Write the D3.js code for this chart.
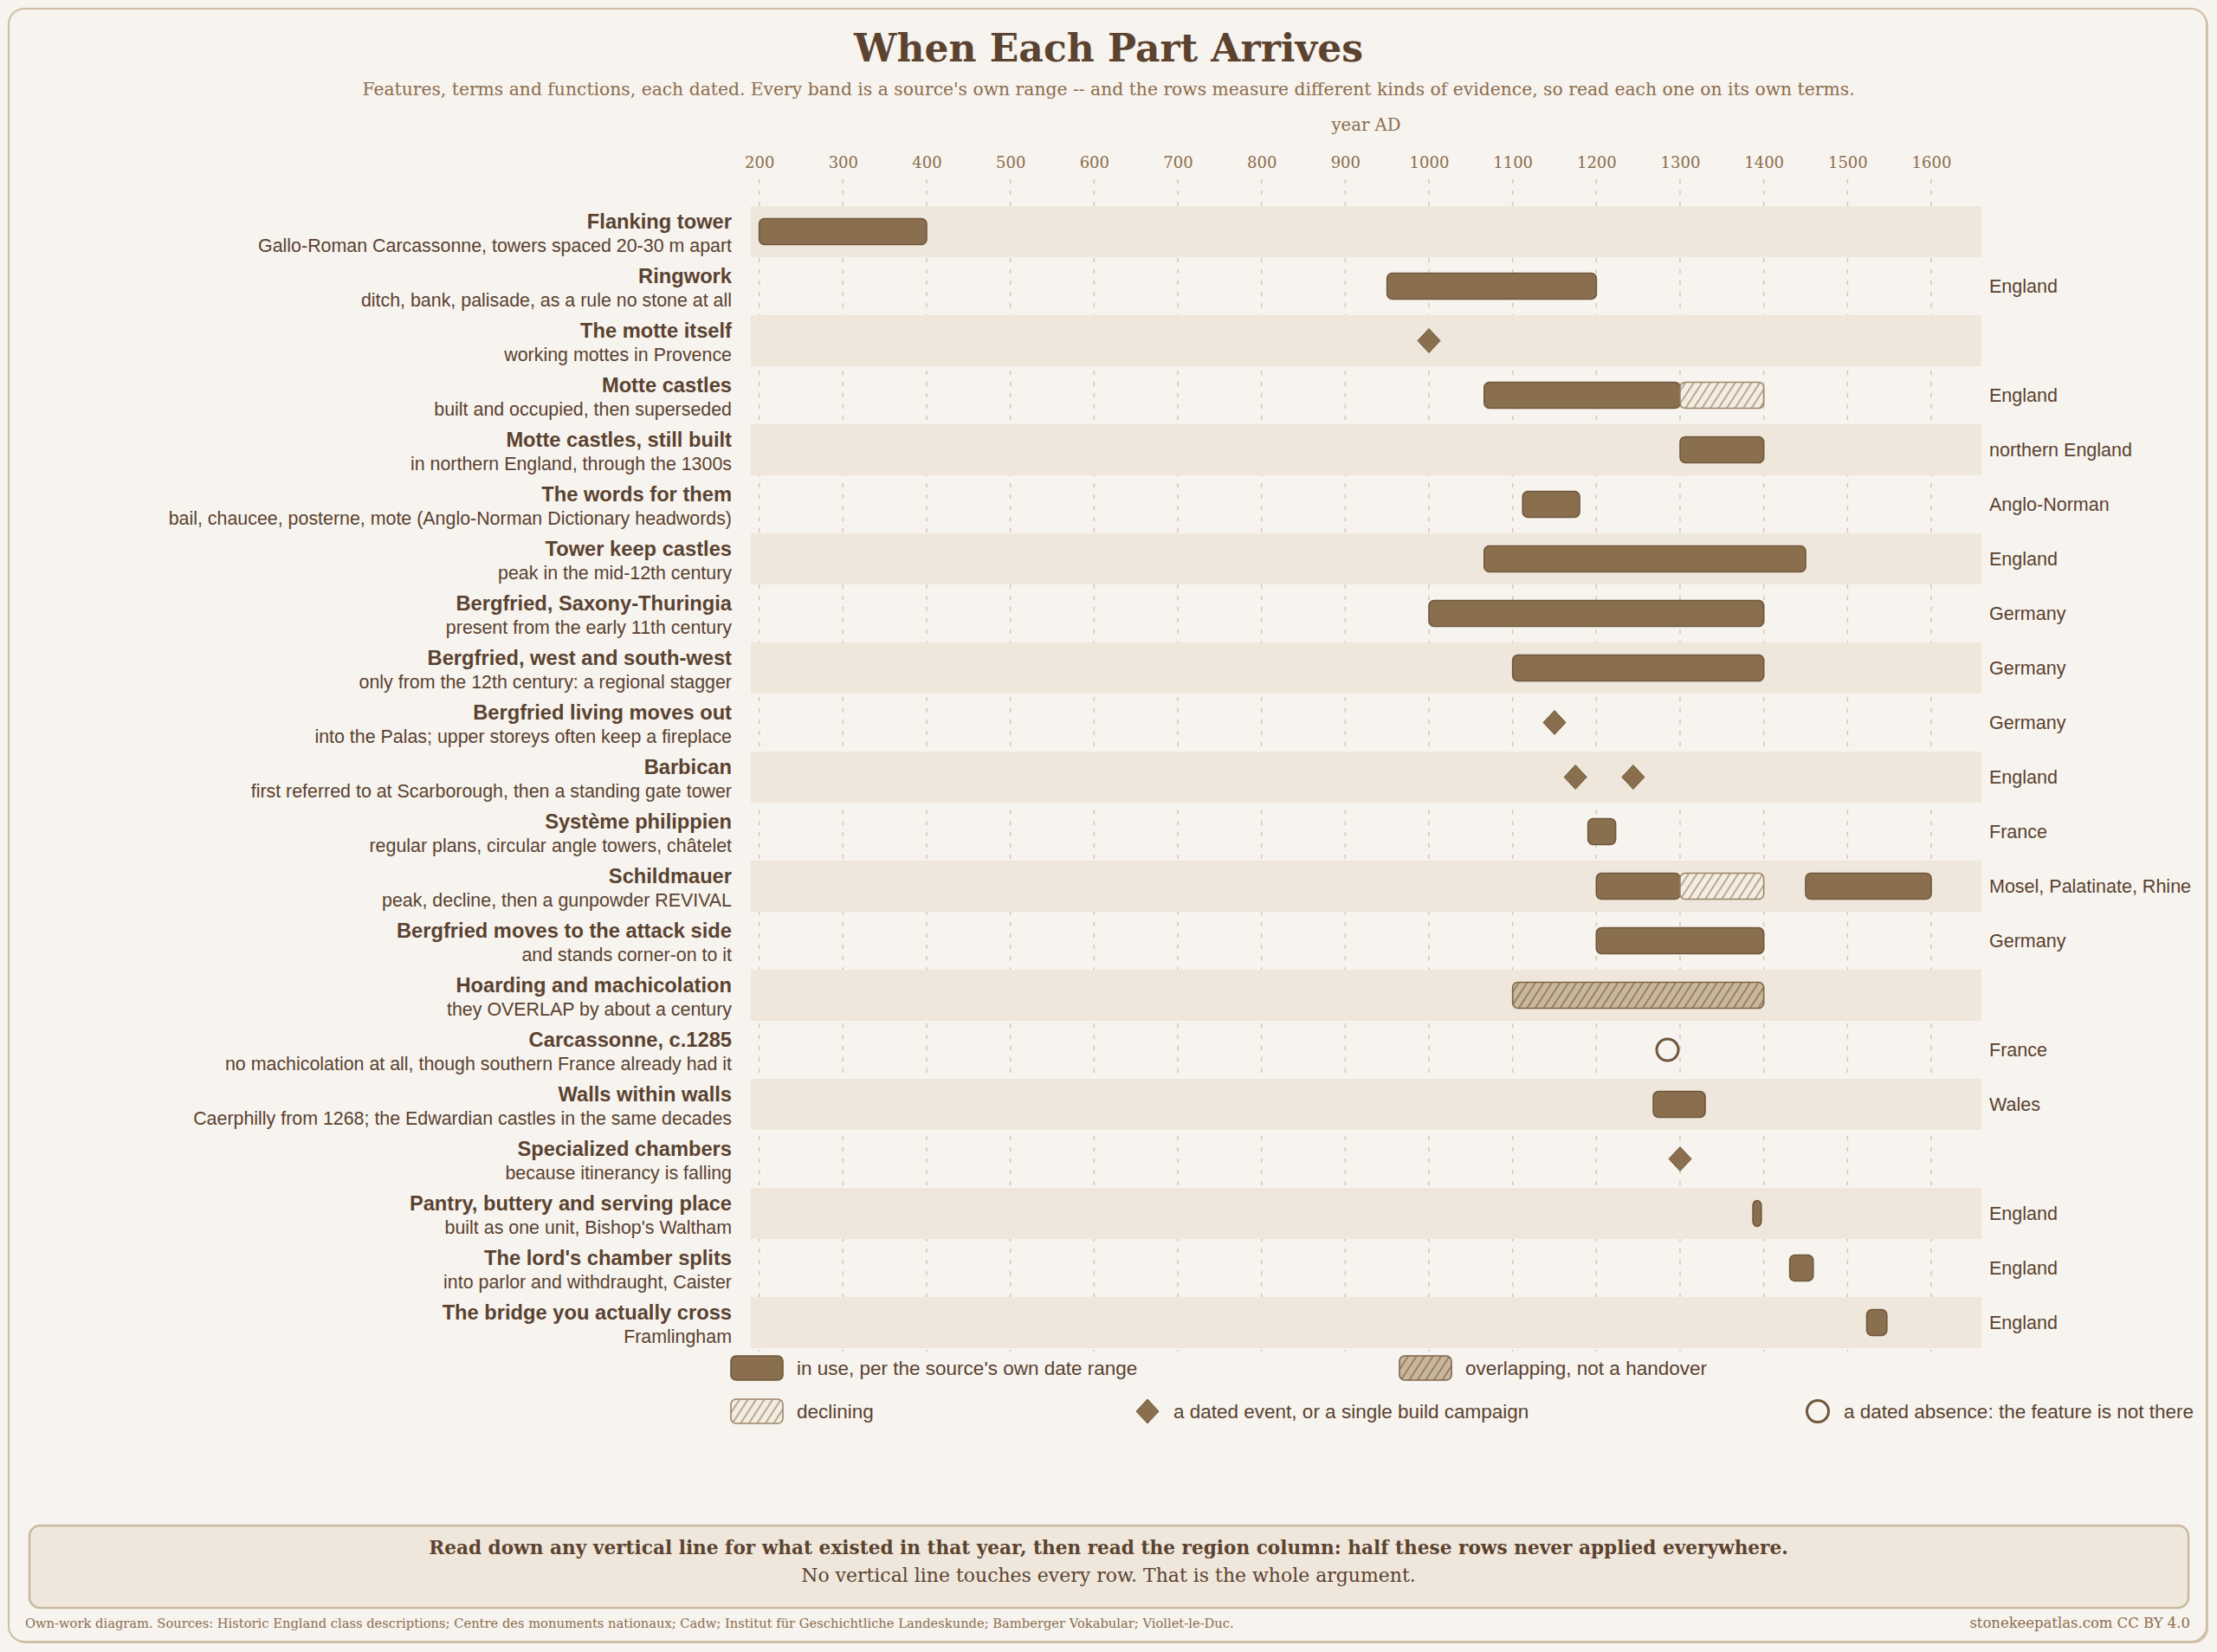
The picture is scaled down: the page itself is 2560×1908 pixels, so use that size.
<!DOCTYPE html>
<html>
<head>
<meta charset="utf-8">
<script src="https://cdn.jsdelivr.net/npm/d3@7"></script>
<style>
  html, body { margin: 0; padding: 0; background: #f7f3ee; }
  svg { display: block; }
</style>
</head>
<body>
<div id="chart"></div>
<script>
// ---- data ----
const rowTitles = [
  "Flanking tower", "Ringwork", "The motte itself", "Motte castles",
  "Motte castles, still built", "The words for them", "Tower keep castles",
  "Bergfried, Saxony-Thuringia", "Bergfried, west and south-west",
  "Bergfried living moves out", "Barbican", "Système philippien", "Schildmauer",
  "Bergfried moves to the attack side", "Hoarding and machicolation",
  "Carcassonne, c.1285", "Walls within walls", "Specialized chambers",
  "Pantry, buttery and serving place", "The lord's chamber splits",
  "The bridge you actually cross"
];
const rowNotes = [
  "Gallo-Roman Carcassonne, towers spaced 20-30 m apart",
  "ditch, bank, palisade, as a rule no stone at all",
  "working mottes in Provence",
  "built and occupied, then superseded",
  "in northern England, through the 1300s",
  "bail, chaucee, posterne, mote (Anglo-Norman Dictionary headwords)",
  "peak in the mid-12th century",
  "present from the early 11th century",
  "only from the 12th century: a regional stagger",
  "into the Palas; upper storeys often keep a fireplace",
  "first referred to at Scarborough, then a standing gate tower",
  "regular plans, circular angle towers, châtelet",
  "peak, decline, then a gunpowder REVIVAL",
  "and stands corner-on to it",
  "they OVERLAP by about a century",
  "no machicolation at all, though southern France already had it",
  "Caerphilly from 1268; the Edwardian castles in the same decades",
  "because itinerancy is falling",
  "built as one unit, Bishop's Waltham",
  "into parlor and withdraught, Caister",
  "Framlingham"
];
const rowRegions = [
  "", "England", "", "England", "northern England", "Anglo-Norman", "England",
  "Germany", "Germany", "Germany", "England", "France", "Mosel, Palatinate, Rhine",
  "Germany", "", "France", "Wales", "", "England", "England", "England"
];

// bands: row index, start year, end year, kind
const spans = [
  { row: 0,  from: 200,  to: 400,  kind: "use" },
  { row: 1,  from: 950,  to: 1200, kind: "use" },
  { row: 3,  from: 1066, to: 1300, kind: "use" },
  { row: 3,  from: 1300, to: 1400, kind: "declining" },
  { row: 4,  from: 1300, to: 1400, kind: "use" },
  { row: 5,  from: 1112, to: 1180, kind: "use" },
  { row: 6,  from: 1066, to: 1450, kind: "use" },
  { row: 7,  from: 1000, to: 1400, kind: "use" },
  { row: 8,  from: 1100, to: 1400, kind: "use" },
  { row: 11, from: 1190, to: 1223, kind: "use" },
  { row: 12, from: 1200, to: 1300, kind: "use" },
  { row: 12, from: 1300, to: 1400, kind: "declining" },
  { row: 12, from: 1450, to: 1600, kind: "use" },
  { row: 13, from: 1200, to: 1400, kind: "use" },
  { row: 14, from: 1100, to: 1400, kind: "overlap" },
  { row: 16, from: 1268, to: 1330, kind: "use" },
  { row: 18, from: 1387, to: 1397, kind: "use" },
  { row: 19, from: 1431, to: 1459, kind: "use" },
  { row: 20, from: 1523, to: 1547, kind: "use" }
];
const events = [
  { row: 2,  year: 1000 },
  { row: 9,  year: 1150 },
  { row: 10, year: 1175 },
  { row: 10, year: 1244 },
  { row: 17, year: 1300 }
];
const absences = [
  { row: 15, year: 1285 }
];
const tickYears = [200, 300, 400, 500, 600, 700, 800, 900, 1000, 1100, 1200, 1300, 1400, 1500, 1600];

const legendItems = [
  { kind: "use",       label: "in use, per the source's own date range" },
  { kind: "overlap",   label: "overlapping, not a handover" },
  { kind: "declining", label: "declining" },
  { kind: "event",     label: "a dated event, or a single build campaign" },
  { kind: "absence",   label: "a dated absence: the feature is not there" }
];

// ---- layout ----
const W = 2560, H = 1908;
const serif = "'DejaVu Serif', Georgia, serif";
const sans = "'Liberation Sans', Arial, Helvetica, sans-serif";
const ink = "#5a4230", soft = "#8b6d4d";
const barFill = "#8a6f4f", barStroke = "#6f573c", bandFill = "#efe7db";

const svg = d3.select("#chart").append("svg")
    .attr("width", W)
    .attr("height", H);

// stretch a serif line to the width it has in the reference
function fit(sel, w) {
    const len = sel.node().getComputedTextLength();
    const fs = parseFloat(sel.attr("font-size"));
    sel.attr("font-size", (fs * w / len).toFixed(2));
    return sel;
}

const defs = svg.append("defs");
function hatch(id, bg, line) {
    const p = defs.append("pattern")
        .attr("id", id)
        .attr("patternUnits", "userSpaceOnUse")
        .attr("width", 8).attr("height", 8)
        .attr("patternTransform", "rotate(33)");
    p.append("rect").attr("width", 8).attr("height", 8).attr("fill", bg);
    p.append("line").attr("x1", 1).attr("x2", 1).attr("y1", 0).attr("y2", 8)
        .attr("stroke", line).attr("stroke-width", 1.3);
}
hatch("declining", "#f4ede2", "#9c8468");
hatch("overlap", "#c9b79b", "#7d644a");

const kindStyle = {
    use:       { fill: barFill, stroke: barStroke },
    declining: { fill: "url(#declining)", stroke: "#9c8468" },
    overlap:   { fill: "url(#overlap)", stroke: "#7d644a" }
};

// card
svg.append("rect")
    .attr("x", 12).attr("y", 12).attr("width", W - 22).attr("height", H - 22)
    .attr("rx", 18).attr("fill", "#d3c4ac");
svg.append("rect")
    .attr("x", 10).attr("y", 10).attr("width", W - 22).attr("height", H - 22)
    .attr("rx", 18).attr("fill", "#f7f3ee").attr("stroke", "#cdbda4").attr("stroke-width", 2);

// titles
fit(svg.append("text")
    .attr("x", 1280).attr("y", 71)
    .attr("text-anchor", "middle")
    .attr("font-family", serif).attr("font-weight", "bold").attr("font-size", 48)
    .attr("fill", "#5c4330")
    .text("When Each Part Arrives"), 588);

fit(svg.append("text")
    .attr("x", 1280).attr("y", 110)
    .attr("text-anchor", "middle")
    .attr("font-family", serif).attr("font-size", 22)
    .attr("fill", soft)
    .text("Features, terms and functions, each dated. Every band is a source's own range -- and the rows measure different kinds of evidence, so read each one on its own terms."), 1724);

// scales
const x = d3.scaleLinear().domain([190, 1660]).range([867, 2288]);
const y = d3.scaleBand().domain(d3.range(rowTitles.length))
    .range([238, 238 + 20 * 63 + 59]).paddingInner(4 / 63);
const cy = i => y(i) + y.bandwidth() / 2;

fit(svg.append("text")
    .attr("x", (x.range()[0] + x.range()[1]) / 2).attr("y", 151)
    .attr("text-anchor", "middle")
    .attr("font-family", serif).attr("font-size", 20)
    .attr("fill", soft)
    .text("year AD"), 80);

// axis labels on top
const axis = svg.append("g")
    .attr("transform", "translate(0,194)")
    .call(d3.axisTop(x).tickValues(tickYears).tickSize(0).tickPadding(0).tickFormat(d3.format("d")));
axis.select(".domain").remove();
axis.selectAll("text")
    .attr("font-family", serif).attr("font-size", 18)
    .attr("fill", soft);

// dashed year lines
svg.append("g").selectAll("line")
    .data(tickYears)
    .join("line")
    .attr("x1", d => x(d)).attr("x2", d => x(d))
    .attr("y1", 207).attr("y2", 1561)
    .attr("stroke", "#d6c8b1").attr("stroke-width", 1.5)
    .attr("stroke-dasharray", "5,8");

// alternating row bands
svg.append("g").selectAll("rect")
    .data(d3.range(rowTitles.length).filter(i => i % 2 === 0))
    .join("rect")
    .attr("x", x.range()[0]).attr("width", x.range()[1] - x.range()[0])
    .attr("y", i => y(i)).attr("height", y.bandwidth())
    .attr("fill", bandFill);

// row labels
const labels = svg.append("g");
labels.selectAll(".row-title")
    .data(rowTitles)
    .join("text")
    .attr("class", "row-title")
    .attr("x", 845).attr("y", (d, i) => cy(i) - 4)
    .attr("text-anchor", "end")
    .attr("font-family", sans).attr("font-weight", "bold").attr("font-size", 23.7)
    .attr("fill", ink)
    .text(d => d);
labels.selectAll(".row-note")
    .data(rowNotes)
    .join("text")
    .attr("class", "row-note")
    .attr("x", 845).attr("y", (d, i) => cy(i) + 23)
    .attr("text-anchor", "end")
    .attr("font-family", sans).attr("font-size", 21.4)
    .attr("fill", ink)
    .text(d => d);
labels.selectAll(".row-region")
    .data(rowRegions)
    .join("text")
    .attr("class", "row-region")
    .attr("x", 2297).attr("y", (d, i) => cy(i))
    .attr("dy", "0.36em")
    .attr("font-family", sans).attr("font-size", 21.5)
    .attr("fill", ink)
    .text(d => d);

// spans
svg.append("g").selectAll("rect")
    .data(spans)
    .join("rect")
    .attr("x", d => x(d.from)).attr("width", d => x(d.to) - x(d.from))
    .attr("y", d => cy(d.row) - 15).attr("height", 30)
    .attr("rx", 6)
    .attr("fill", d => kindStyle[d.kind].fill)
    .attr("stroke", d => kindStyle[d.kind].stroke)
    .attr("stroke-width", 1.6);

// dated events and absences
const diamond = "M0,-14L13,0L0,14L-13,0Z";
svg.append("g").selectAll("path")
    .data(events)
    .join("path")
    .attr("d", diamond)
    .attr("transform", d => `translate(${x(d.year)},${cy(d.row)})`)
    .attr("fill", barFill).attr("stroke", barStroke).attr("stroke-width", 1);

svg.append("g").selectAll("circle")
    .data(absences)
    .join("circle")
    .attr("cx", d => x(d.year)).attr("cy", d => cy(d.row))
    .attr("r", 12.5)
    .attr("fill", "#f7f3ee").attr("stroke", "#6f573c").attr("stroke-width", 3);

// legend
const legendPos = [
    { x: 844,  y: 1580 },
    { x: 1616, y: 1580 },
    { x: 844,  y: 1630 },
    { x: 1312, y: 1630 },
    { x: 2086, y: 1630 }
];
const lg = svg.append("g").selectAll("g")
    .data(legendItems)
    .join("g")
    .attr("transform", (d, i) => `translate(${legendPos[i].x},${legendPos[i].y})`);
lg.filter(d => kindStyle[d.kind])
    .append("rect")
    .attr("x", 0).attr("y", -14).attr("width", 60).attr("height", 28).attr("rx", 6)
    .attr("fill", d => kindStyle[d.kind].fill)
    .attr("stroke", d => kindStyle[d.kind].stroke)
    .attr("stroke-width", 1.6);
lg.filter(d => d.kind === "event")
    .append("path")
    .attr("d", diamond)
    .attr("transform", "translate(13,0)")
    .attr("fill", barFill).attr("stroke", barStroke);
lg.filter(d => d.kind === "absence")
    .append("circle")
    .attr("cx", 13).attr("r", 12.5)
    .attr("fill", "none").attr("stroke", "#6f573c").attr("stroke-width", 3);
lg.append("text")
    .attr("x", d => kindStyle[d.kind] ? 76 : 43)
    .attr("dy", "0.36em")
    .attr("font-family", sans).attr("font-size", 22.5)
    .attr("fill", ink)
    .text(d => d.label);

// closing note
svg.append("rect")
    .attr("x", 34).attr("y", 1762).attr("width", 2493).attr("height", 95).attr("rx", 12)
    .attr("fill", bandFill).attr("stroke", "#c9b99f").attr("stroke-width", 2.5);
fit(svg.append("text")
    .attr("x", 1280).attr("y", 1795)
    .attr("text-anchor", "middle")
    .attr("font-family", serif).attr("font-weight", "bold").attr("font-size", 24)
    .attr("fill", "#5c4330")
    .text("Read down any vertical line for what existed in that year, then read the region column: half these rows never applied everywhere."), 1570);
fit(svg.append("text")
    .attr("x", 1280).attr("y", 1827)
    .attr("text-anchor", "middle")
    .attr("font-family", serif).attr("font-size", 22)
    .attr("fill", "#5c4330")
    .text("No vertical line touches every row. That is the whole argument."), 710);

// footer
fit(svg.append("text")
    .attr("x", 29).attr("y", 1880)
    .attr("font-family", serif).attr("font-size", 15)
    .attr("fill", soft)
    .text("Own-work diagram. Sources: Historic England class descriptions; Centre des monuments nationaux; Cadw; Institut für Geschichtliche Landeskunde; Bamberger Vokabular; Viollet-le-Duc."), 1396);
fit(svg.append("text")
    .attr("x", 2529).attr("y", 1880)
    .attr("text-anchor", "end")
    .attr("font-family", serif).attr("font-size", 16)
    .attr("fill", soft)
    .text("stonekeepatlas.com CC BY 4.0"), 255);
</script>
</body>
</html>
